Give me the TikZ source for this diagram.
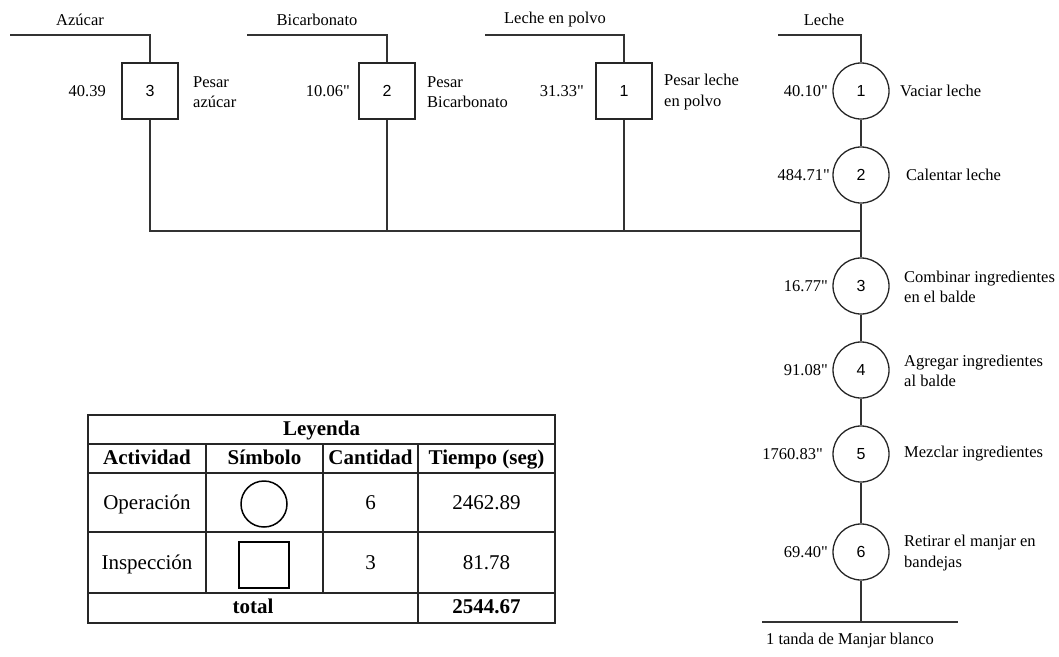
\documentclass[tikz,border=0pt]{standalone}
\usepackage{fontspec}
\setmainfont{Liberation Serif}[Ligatures=TeXOff]
\newfontfamily\arialf{Liberation Sans}
\newcommand\qd{\symbol{34}}
\begin{document}
\begin{tikzpicture}[x=1pt,y=-1pt,
  ln/.style={line width=1.3pt,draw=black!80},
  insp/.style={draw=black!85,line width=1.3pt,minimum size=56pt,inner sep=0pt,font=\arialf\fontsize{16}{19}\selectfont},
  oper/.style={circle,draw=black!85,line width=1.3pt,minimum size=56pt,inner sep=0pt,font=\arialf\fontsize{16}{19}\selectfont},
  lbl/.style={font=\fontsize{16.5}{20.5}\selectfont,inner sep=0pt},
  tm/.style={lbl,anchor=east},
  ds/.style={lbl,anchor=west,align=left},
  tb/.style={font=\fontsize{21}{24}\selectfont,inner sep=0pt,text height=14pt,text depth=4.5pt},
  tbb/.style={font=\bfseries\fontsize{21}{24}\selectfont,inner sep=0pt,text height=14pt,text depth=4.5pt},
  grid/.style={line width=1.2pt,draw=black!85}]
\useasboundingbox (0,0) rectangle (1059,656);

% inspections
\node[insp] (b3) at (150,91) {3};
\node[insp] (b2) at (387,91) {2};
\node[insp] (b1) at (624,91) {1};
% operations
\node[oper] (o1) at (861,91) {1};
\node[oper] (o2) at (861,175) {2};
\node[oper] (o3) at (861,286) {3};
\node[oper] (o4) at (861,370) {4};
\node[oper] (o5) at (861,454) {5};
\node[oper] (o6) at (861,552) {6};

% input lines
\coordinate (sAz) at (10,35);
\coordinate (sBi) at (247,35);
\coordinate (sLp) at (485,35);
\coordinate (sLe) at (778,35);
\coordinate (m) at (861,231);
\coordinate (fin) at (861,622);
\coordinate (finL) at (762,622);
\coordinate (finR) at (958,622);

\draw[ln] (sAz) -| (b3);
\draw[ln] (sBi) -| (b2);
\draw[ln] (sLp) -| (b1);
\draw[ln] (sLe) -| (o1);
\draw[ln] (b3) |- (m);
\draw[ln] (b2) -- (b2 |- m);
\draw[ln] (b1) -- (b1 |- m);
\draw[ln] (o1) -- (o2);
\draw[ln] (o2) -- (o3);
\draw[ln] (o3) -- (o4);
\draw[ln] (o4) -- (o5);
\draw[ln] (o5) -- (o6);
\draw[ln] (o6) -- (fin);
\draw[ln] (finL) -- (finR);

% input labels
\node[lbl] (tAz) at (80,20) {Azúcar};
\node[lbl] (tBi) at (317,20) {Bicarbonato};
\node[lbl] (tLp) at (555,20) {Leche en polvo};
\node[lbl] (tLe) at (824,20) {Leche};
\node[lbl] (tFin) at (850,641) {1 tanda de Manjar blanco};

% times
\node[tm] (t3) at (106,91) {40.39};
\node[tm] (t2) at (350,91) {10.06\qd};
\node[tm] (t1) at (584,91) {31.33\qd};
\node[tm] (to1) at (828,91) {40.10\qd};
\node[tm] (to2) at (830,175) {484.71\qd};
\node[tm] (to3) at (828,286) {16.77\qd};
\node[tm] (to4) at (828,370) {91.08\qd};
\node[tm] (to5) at (823,454) {1760.83\qd};
\node[tm] (to6) at (828,552) {69.40\qd};

% descriptions
\node[ds] (d3) at (193,92) {Pesar\\azúcar};
\node[ds] (d2) at (427,92) {Pesar\\Bicarbonato};
\node[ds] (d1) at (664,92) {Pesar leche\\en polvo};
\node[ds] (do1) at (900,91) {Vaciar leche};
\node[ds] (do2) at (906,175) {Calentar leche};
\node[ds] (do3) at (904,287) {Combinar ingredientes\\en el balde};
\node[ds] (do4) at (904,371) {Agregar ingredientes\\al balde};
\node[ds] (do5) at (904,454) {Mezclar ingredientes};
\node[ds] (do6) at (904,553) {Retirar el manjar en\\bandejas};

% legend table
\draw[grid] (88,415) rectangle (555,623);
\draw[grid] (88,444) -- (555,444);
\draw[grid] (88,473) -- (555,473);
\draw[grid] (88,532) -- (555,532);
\draw[grid] (88,593) -- (555,593);
\draw[grid] (206,444) -- (206,593);
\draw[grid] (323,444) -- (323,593);
\draw[grid] (418,444) -- (418,623);

\node[tbb] (hL) at (321.5,431) {Leyenda};
\node[tbb] (hA) at (147,460) {Actividad};
\node[tbb] (hS) at (264.5,460) {Símbolo};
\node[tbb] (hC) at (370.5,460) {Cantidad};
\node[tbb] (hT) at (486.5,460) {Tiempo (seg)};
\node[tb] (rO) at (147,505) {Operación};
\node[circle,draw=black,line width=1.5pt,minimum size=46pt,inner sep=0pt] (sO) at (264,504) {};
\node[tb] (cO) at (370.5,505) {6};
\node[tb] (vO) at (486.5,505) {2462.89};
\node[tb] (rI) at (147,565) {Inspección};
\node[draw=black,line width=2pt,minimum width=50pt,minimum height=46pt,inner sep=0pt] (sI) at (263.5,564.5) {};
\node[tb] (cI) at (370.5,565) {3};
\node[tb] (vI) at (486.5,565) {81.78};
\node[tbb] (rT) at (253,609) {total};
\node[tbb] (vT) at (486.5,609) {2544.67};
\end{tikzpicture}
\end{document}
